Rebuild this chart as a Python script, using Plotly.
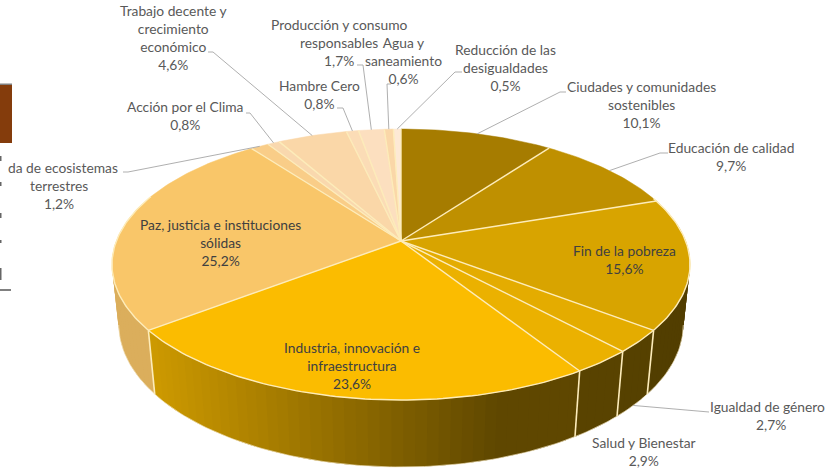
import math
import plotly.graph_objects as go

# ---- data ----------------------------------------------------------------
categories = ["Ciudades y comunidades sostenibles", "Educación de calidad", "Fin de la pobreza",
              "Igualdad de género", "Salud y Bienestar", "Industria, innovación e infraestructura",
              "Paz, justicia e instituciones sólidas", "Vida de ecosistemas terrestres",
              "Acción por el Clima", "Trabajo decente y crecimiento económico", "Hambre Cero",
              "Producción y consumo responsables", "Agua y saneamiento", "Reducción de las desigualdades"]
values = [10.1, 9.7, 15.6, 2.7, 2.9, 23.6, 25.2, 1.2, 0.8, 4.6, 0.8, 1.7, 0.6, 0.5]
colors = ["#a67c00", "#bf9000", "#d8a400", "#e4ac00", "#ebb100", "#fbbc00", "#f9c669",
          "#f9cd88", "#f9d8ae", "#fad7a8", "#fbdcb6", "#fcdfbf", "#fad7a8", "#fde9d5"]

# label text, anchor position
labels = [
    ("Trabajo decente y<br>crecimiento<br>económico<br>4,6%", 173, 37),
    ("Producción y consumo<br>responsables<br>1,7%", 339, 42),
    ("Agua y<br>saneamiento<br>0,6%", 403, 60),
    ("Reducción de las<br>desigualdades<br>0,5%", 505, 67),
    ("Ciudades y comunidades<br>sostenibles<br>10,1%", 641, 104),
    ("Educación de calidad<br>9,7%", 731, 156),
    ("Fin de la pobreza<br>15,6%", 624, 259),
    ("Igualdad de género", 767, 406),
    ("2,7%", 771, 424),
    ("Salud y Bienestar<br>2,9%", 644, 451),
    ("Industria, innovación e<br>infraestructura<br>23,6%", 352, 365),
    ("Paz, justicia e instituciones<br>sólidas<br>25,2%", 220, 242),
    ("Acción por el Clima<br>0,8%", 185, 115),
    ("Hambre Cero<br>0,8%", 319, 94),
    ("terrestres<br>1,2%", 59, 194),
]
inside_labels = ["Fin de la pobreza<br>15,6%", "Industria, innovación e<br>infraestructura<br>23,6%",
                 "Paz, justicia e instituciones<br>sólidas<br>25,2%"]
# leader stubs next to each label, keyed by slice index
leaders = {0: [(566, 92), (560, 92)], 1: [(668, 153), (660, 153)], 3: [(709, 412)],
           7: [(123, 172), (128, 172)], 8: [(246, 113), (250, 113)], 9: [(208, 52), (213, 52)],
           10: [(337, 108), (343, 108)], 11: [(357, 65), (363, 65)], 12: [(391, 84), (387, 84)],
           13: [(462, 72), (455, 72)]}

# ---- projection of the tilted disc ----------------------------------------
CX, CY, A, B, K, DEPTH, GROW = 401, 241, 284.6, 131.4, 0.1735, 60.6, 0.023


def project(theta, bottom=False):
    u, v = math.sin(theta), math.cos(theta)
    w = 1 + K * v + (GROW if bottom else 0)
    return CX + A * u / w, CY - (B * v - (DEPTH if bottom else 0)) / w


def shade(hex_c, f):
    r, g, b = (int(hex_c[i:i + 2], 16) for i in (1, 3, 5))
    return f"rgb({int(r * f)},{int(g * f)},{int(b * f)})"


def poly(points, fill, width=0):
    xs, ys = zip(*points)
    return go.Scatter(x=list(xs), y=list(ys), mode="lines", fill="toself", fillcolor=fill,
                      line=dict(color=fill, width=width), hoverinfo="skip", showlegend=False)


def path(points, color, width):
    xs, ys = zip(*points)
    return go.Scatter(x=list(xs), y=list(ys), mode="lines", line=dict(color=color, width=width),
                      hoverinfo="skip", showlegend=False)


total = sum(values)
edges = [0.0]
for val in values:
    edges.append(edges[-1] + val / total * 2 * math.pi)

fig = go.Figure()
RIM = "#fdecba"

# side wall: each slab overlaps the next one so no seams show through
STEP = math.radians(2.0)
LO, HI = math.radians(80), math.radians(285)
for i, col in enumerate(colors):
    a0, a1 = edges[i], edges[i + 1]
    if a1 < LO or a0 > HI:
        continue
    t = max(a0, LO)
    stop = min(a1, HI)
    while t < stop:
        t2 = min(t + STEP, stop)
        over = min(t2 + STEP, stop)
        x_mid = project((t + t2) / 2)[0]
        f = 0.38 if x_mid >= 500 else 0.38 + (500 - x_mid) / (500 - 150) * 0.44
        if i == 6:
            f = 0.88
        span = [t + (over - t) * j / 4 for j in range(5)]
        quad = [project(s) for s in span] + [project(s, True) for s in reversed(span)]
        fig.add_trace(poly(quad, shade(col, f)))
        t = t2

# bottom rim
n = 160
fig.add_trace(path([project(math.radians(100 + 160 * j / n), True) for j in range(n + 1)], "#f3e6c4", 0.7))

# wall seams
for i in (3, 4, 5, 6):
    fig.add_trace(path([project(edges[i]), project(edges[i], True)], RIM, 1.6))

# top face
for i, col in enumerate(colors):
    a0, a1 = edges[i], edges[i + 1]
    steps = max(2, int((a1 - a0) / math.radians(1)))
    rim = [project(a0 + (a1 - a0) * j / steps) for j in range(steps + 1)]
    fig.add_trace(poly([(CX, CY)] + rim, col, 0.5))

# slice seams and rim outline
for e in edges[1:]:
    fig.add_trace(path([(CX, CY), project(e)], RIM, 1.4))
fig.add_trace(path([project(math.radians(j)) for j in range(70, 292)], RIM, 1.4))

# leader lines end on the rim at each slice's mid-angle
for i, stub in leaders.items():
    mid = (edges[i] + edges[i + 1]) / 2
    fig.add_trace(path(stub + [project(mid, bottom=(i == 3))], "#a6a6a6", 0.9))

# text
ann = []
for text, x, y in labels:
    c = "#404040" if text in inside_labels else "#595959"
    ann.append(dict(x=x, y=y, text=text, showarrow=False, xanchor="center", yanchor="middle",
                    align="center", font=dict(family="Lato", size=13.8, color=c)))
ann.append(dict(x=120, y=167, text="da de ecosistemas", showarrow=False, xanchor="right", yanchor="middle",
                font=dict(family="Lato", size=13.8, color="#595959")))

# stray neighbouring page content at the left edge
shapes = [dict(type="rect", x0=0, x1=12, y0=85, y1=143, fillcolor="#843c0c", line_width=0, layer="below"),
          dict(type="rect", x0=0, x1=12, y0=83.5, y1=85, fillcolor="#808080", line_width=0, layer="below"),
          dict(type="rect", x0=0, x1=11, y0=289, y1=291, fillcolor="#808080", line_width=0, layer="below")]
for y0, y1 in [(156, 161), (182, 186), (213, 218), (240, 243), (268, 280)]:
    shapes.append(dict(type="rect", x0=0, x1=1.5, y0=y0, y1=y1, fillcolor="#666666", line_width=0, layer="below"))

fig.update_layout(width=825, height=470, margin=dict(l=0, r=0, t=0, b=0), paper_bgcolor="white",
                  plot_bgcolor="white", showlegend=False, annotations=ann, shapes=shapes,
                  xaxis=dict(range=[0, 825], visible=False, fixedrange=True),
                  yaxis=dict(range=[470, 0], visible=False, fixedrange=True))
fig.write_html("out.html", post_script="document.body.style.margin='0';",
               config={"displayModeBar": False})
